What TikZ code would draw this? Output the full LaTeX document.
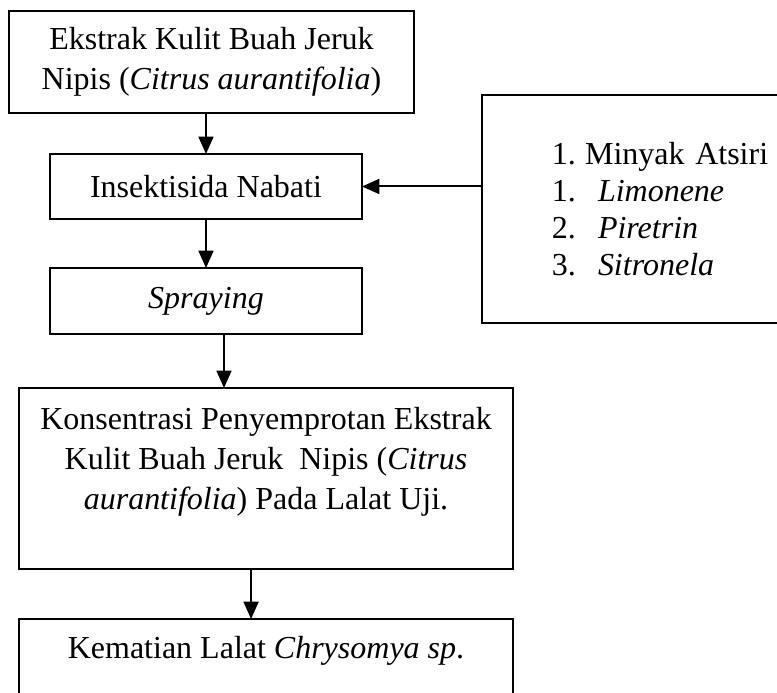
\documentclass[tikz,border=0pt]{standalone}
\usepackage{fontspec}
\setmainfont{Liberation Serif}
\usetikzlibrary{arrows.meta}

\tikzset{
  box/.style={draw=black, line width=0.8pt, inner sep=0pt, outer sep=0pt,
              align=center, font=\fontsize{12}{15}\selectfont},
  flow/.style={-{Triangle[length=6.5pt,width=5.6pt]}, line width=0.75pt}
}

\begin{document}
\begin{tikzpicture}[x=0.375pt, y=-0.375pt]

  % ================= canvas =================
  \useasboundingbox (0,0) rectangle (777,693);

  % ================= main column =================
  \node[box, minimum width=151.9pt, minimum height=38.25pt] (ekstrak) at (211.5,62)
      {Ekstrak Kulit Buah Jeruk\\ Nipis (\textit{Citrus aurantifolia})};
  \node[box, minimum width=117pt, minimum height=24.4pt] (nabati) at (206,186.5)
      {Insektisida Nabati};
  \node[box, minimum width=117pt, minimum height=24.75pt] (spraying) at (206,301)
      {\textit{Spraying}};
  \node[box, minimum width=185.25pt, minimum height=67.9pt] (konsentrasi) at (266,478.5)
      {Konsentrasi Penyemprotan Ekstrak\\
       Kulit Buah Jeruk\ \ Nipis (\textit{Citrus}\\
       \textit{aurantifolia}) Pada Lalat Uji.\\ \mbox{}};
  \node[box, minimum width=185.25pt, minimum height=36pt] (kematian) at (266,667)
      {Kematian Lalat \textit{Chrysomya sp}.\\ \mbox{}};

  % ================= side box =================
  \node[box, anchor=north west, align=left, text width=90pt, inner xsep=26.25pt,
        minimum height=85.5pt, font=\fontsize{12}{13.8}\selectfont] (atsiri) at (482,95)
      {\makebox[12.4pt][l]{1.}Minyak Atsiri\\
       \makebox[17.25pt][l]{1.}\textit{Limonene}\\
       \makebox[17.25pt][l]{2.}\textit{Piretrin}\\
       \makebox[17.25pt][l]{3.}\textit{Sitronela}};

  % ================= arrows =================
  \draw[flow] (nabati.north |- ekstrak.south) -- (nabati.north);
  \draw[flow] (nabati.south) -- (spraying.north);
  \draw[flow] ([xshift=6.75pt]spraying.south) -- ([xshift=6.75pt]spraying.south |- konsentrasi.north);
  \draw[flow] ([xshift=-5.6pt]konsentrasi.south) -- ([xshift=-5.6pt]konsentrasi.south |- kematian.north);
  \draw[flow] (atsiri.west |- nabati.east) -- (nabati.east);

\end{tikzpicture}
\end{document}
